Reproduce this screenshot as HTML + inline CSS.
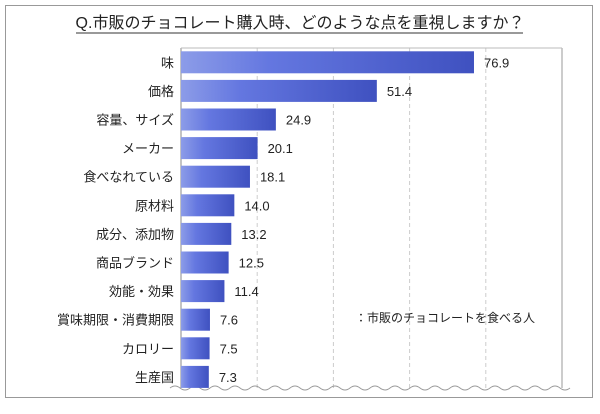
<!DOCTYPE html>
<html><head><meta charset="utf-8"><style>
body{margin:0;background:#fff;font-family:"Liberation Sans","Noto Sans CJK JP",sans-serif}
#c{position:relative;width:600px;height:409px}
</style></head><body><div id="c">
<svg width="600" height="409">
<defs><linearGradient id="g" x1="0" x2="1"><stop offset="0" stop-color="#8c9ce8"/><stop offset="0.3" stop-color="#6477e0"/><stop offset="1" stop-color="#3f51c0"/></linearGradient></defs>
<rect x="5.5" y="5.5" width="587" height="392" fill="#fff" stroke="#999"/>
<text x="300" y="28" text-anchor="middle" font-size="16" fill="#222">Q.市販のチョコレート購入時、どのような点を重視しますか？</text>
<line x1="76" y1="33" x2="523" y2="33" stroke="#333"/>
<g id="grid"></g><g id="bars"></g>
<text x="355" y="322" font-size="12" fill="#222">：市販のチョコレートを食べる人</text>
</svg></div>
<script>
const categories=["味","価格","容量、サイズ","メーカー","食べなれている","原材料","成分、添加物","商品ブランド","効能・効果","賞味期限・消費期限","カロリー","生産国"];
const values=[76.9,51.4,24.9,20.1,18.1,14.0,13.2,12.5,11.4,7.6,7.5,7.3];
const ticks=[0,20,40,60,80,100];
const ns="http://www.w3.org/2000/svg";
const x0=181,x1=562,plotTop=48,rowH=28.6,barH=22;
const xs=v=>x0+(v/100)*(x1-x0);
const ys=i=>plotTop+i*rowH+(rowH-barH)/2;
const grid=document.getElementById('grid'),bars=document.getElementById('bars');
function mk(t,a,p){const e=document.createElementNS(ns,t);for(const k in a)e.setAttribute(k,a[k]);p.appendChild(e);return e;}
const yb=388;
ticks.forEach((t,i)=>{const l=mk('line',{x1:xs(t),x2:xs(t),y1:plotTop,y2:yb,stroke:i==0?'#888':(i==5?'#999':'#ccc'),'stroke-dasharray':(i==0||i==5)?'':'4,3'},grid);

});
const tl=mk('line',{x1:x0,x2:x1,y1:plotTop,y2:plotTop,stroke:'#bbb'},grid);


let d="M170 "+yb;for(let x=170;x<570;x+=20)d+=` q5 -4 10 0 q5 4 10 0`;
const w=mk('path',{d:d,fill:'none',stroke:'#999'},grid);


categories.forEach((c,i)=>{const y=ys(i);
const r=mk('rect',{x:x0,y:y,width:xs(values[i])-x0,height:barH,fill:'url(#g)'},bars);


const lb=mk('text',{x:174,y:y+barH/2+5,'text-anchor':'end','font-size':13,fill:'#222'},bars);lb.textContent=c;


const v=mk('text',{x:xs(values[i])+10,y:y+barH/2+5,'font-size':13,fill:'#222'},bars);v.textContent=values[i].toFixed(1);

});
</script></body></html>
